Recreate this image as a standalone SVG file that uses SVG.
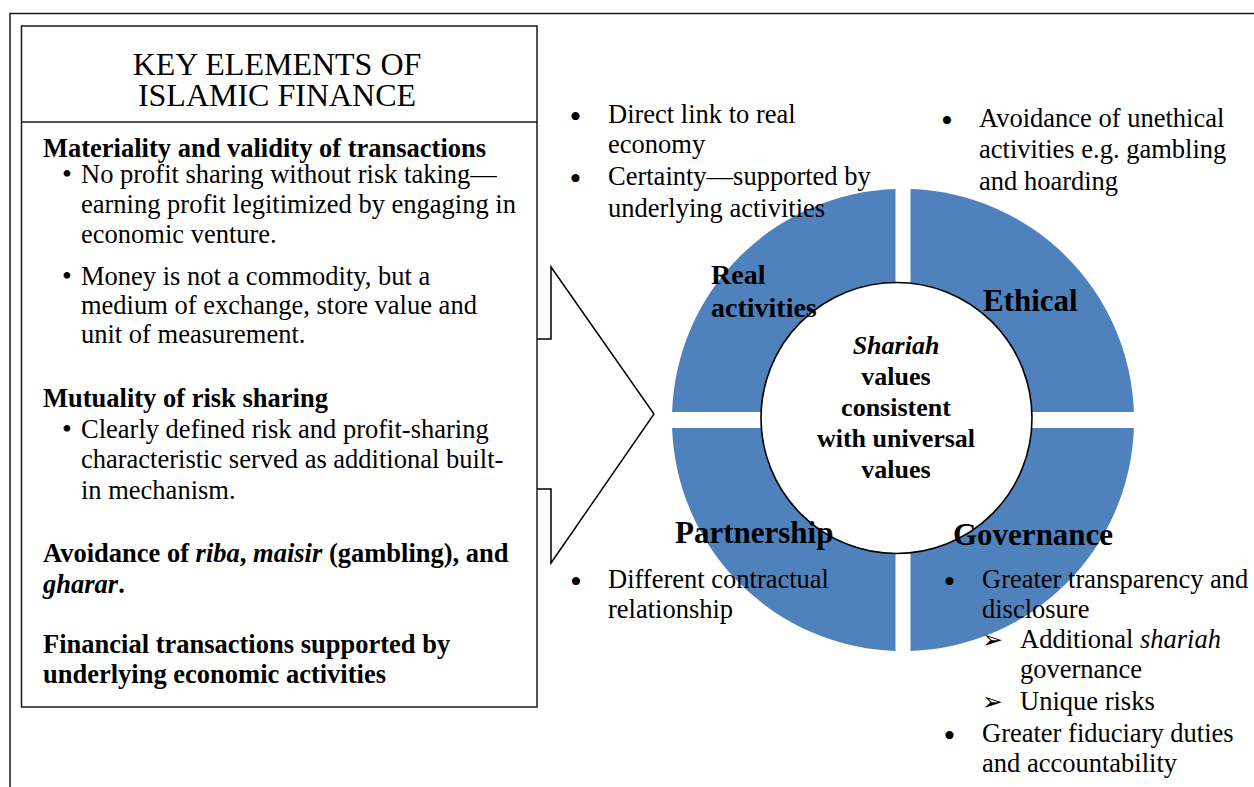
<svg xmlns="http://www.w3.org/2000/svg" width="1254" height="787" viewBox="0 0 1254 787">
  <style>
    .frame { fill: none; stroke: #1a1a1a; stroke-width: 1.5; }
    .box { fill: #ffffff; stroke: #1a1a1a; stroke-width: 1.5; }
    .seg { fill: #4F81BD; }
    .core { fill: #ffffff; stroke: #000000; stroke-width: 1.6; }
    .t { font-family: "Liberation Serif", "Times New Roman", serif; fill: #000000; }
    .body { font-size: 26.5px; }
    .bold { font-weight: bold; }
    .it { font-style: italic; }
    .title { font-size: 32px; }
    .lbl { font-size: 31px; font-weight: bold; }
    .lbl2 { font-size: 28px; font-weight: bold; }
    .mid { font-size: 26px; font-weight: bold; text-anchor: middle; }
    .dot { font-size: 28px; text-anchor: middle; }
    .bdot { font-size: 34px; text-anchor: middle; }
    .arr { font-family: "DejaVu Sans", sans-serif; font-size: 25px; }
  </style>

  <!-- outer frame (top and left rules) -->
  <path class="frame" d="M10,787 V13.5 H1254"/>

  <!-- connectors: chevron arrow pointing from the box to the wheel -->
  <g id="connectors">
    <path d="M537,339 H551 V267 L654,414 L551,563 V489 H537" fill="#ffffff" stroke="#000000" stroke-width="1.5" stroke-linejoin="miter"/>
  </g>

  <!-- left panel: key elements -->
  <g id="key-elements">
    <rect class="box" x="21.5" y="26" width="515.5" height="681"/>
    <line x1="21.5" y1="122" x2="537" y2="122" stroke="#1a1a1a" stroke-width="1.5"/>
    <text class="t title" x="277" y="75" text-anchor="middle">KEY ELEMENTS OF</text>
    <text class="t title" x="277" y="106" text-anchor="middle">ISLAMIC FINANCE</text>

    <text class="t body bold" x="43" y="157">Materiality and validity of transactions</text>
    <text class="t dot" x="67" y="183">•</text>
    <text class="t body" x="81" y="183">No profit sharing without risk taking—</text>
    <text class="t body" x="81" y="213">earning profit legitimized by engaging in</text>
    <text class="t body" x="81" y="243">economic venture.</text>
    <text class="t dot" x="67" y="285">•</text>
    <text class="t body" x="81" y="285">Money is not a commodity, but a</text>
    <text class="t body" x="81" y="314">medium of exchange, store value and</text>
    <text class="t body" x="81" y="343">unit of measurement.</text>

    <text class="t body bold" x="43" y="407">Mutuality of risk sharing</text>
    <text class="t dot" x="67" y="438">•</text>
    <text class="t body" x="81" y="438">Clearly defined risk and profit-sharing</text>
    <text class="t body" x="81" y="468">characteristic served as additional built-</text>
    <text class="t body" x="81" y="499">in mechanism.</text>

    <text class="t body bold" x="43" y="562">Avoidance of <tspan class="it">riba</tspan>, <tspan class="it">maisir</tspan> (gambling), and</text>
    <text class="t body bold" x="43" y="593"><tspan class="it">gharar</tspan>.</text>

    <text class="t body bold" x="43" y="653">Financial transactions supported by</text>
    <text class="t body bold" x="43" y="683">underlying economic activities</text>
  </g>

  <!-- wheel of four quadrants around the core -->
  <g id="wheel">
    <path class="seg" d="M895.5,412 V189.1 A231,231 0 0,0 672.1,412 Z"/>
    <path class="seg" d="M910.5,412 V189.1 A231,231 0 0,1 1133.9,412 Z"/>
    <path class="seg" d="M910.5,428 H1133.9 A231,231 0 0,1 910.5,650.9 Z"/>
    <path class="seg" d="M895.5,428 V650.9 A231,231 0 0,1 672.1,428 Z"/>
  </g>

  <g id="core">
    <circle class="core" cx="896.5" cy="418" r="135.5"/>
    <text class="t mid" x="896" y="354"><tspan class="it">Shariah</tspan></text>
    <text class="t mid" x="896" y="385">values</text>
    <text class="t mid" x="896" y="416">consistent</text>
    <text class="t mid" x="896" y="447">with universal</text>
    <text class="t mid" x="896" y="478">values</text>
  </g>

  <!-- quadrant: real activities -->
  <g id="real-activities">
    <text class="t lbl2" x="711" y="284">Real</text>
    <text class="t lbl2" x="711" y="317">activities</text>
    <text class="t bdot" x="575.5" y="128">•</text>
    <text class="t body" x="608" y="123">Direct link to real</text>
    <text class="t body" x="608" y="153">economy</text>
    <text class="t bdot" x="575.5" y="190">•</text>
    <text class="t body" x="608" y="185">Certainty—supported by</text>
    <text class="t body" x="608" y="217">underlying activities</text>
  </g>

  <!-- quadrant: ethical -->
  <g id="ethical">
    <text class="t lbl" x="983" y="311">Ethical</text>
    <text class="t bdot" x="947" y="132">•</text>
    <text class="t body" x="979" y="127">Avoidance of unethical</text>
    <text class="t body" x="979" y="158">activities e.g. gambling</text>
    <text class="t body" x="979" y="190">and hoarding</text>
  </g>

  <!-- quadrant: partnership -->
  <g id="partnership">
    <text class="t lbl" x="675" y="543">Partnership</text>
    <text class="t bdot" x="576" y="593">•</text>
    <text class="t body" x="608" y="588">Different contractual</text>
    <text class="t body" x="608" y="618">relationship</text>
  </g>

  <!-- quadrant: governance -->
  <g id="governance">
    <text class="t lbl" x="953" y="545">Governance</text>
    <text class="t bdot" x="949.5" y="593">•</text>
    <text class="t body" x="982" y="588">Greater transparency and</text>
    <text class="t body" x="982" y="618">disclosure</text>
    <text class="t arr" x="982" y="648">➢</text>
    <text class="t body" x="1020" y="648">Additional <tspan class="it">shariah</tspan></text>
    <text class="t body" x="1020" y="678">governance</text>
    <text class="t arr" x="982" y="710">➢</text>
    <text class="t body" x="1020" y="710">Unique risks</text>
    <text class="t bdot" x="949.5" y="747">•</text>
    <text class="t body" x="982" y="742">Greater fiduciary duties</text>
    <text class="t body" x="982" y="772">and accountability</text>
  </g>
</svg>
